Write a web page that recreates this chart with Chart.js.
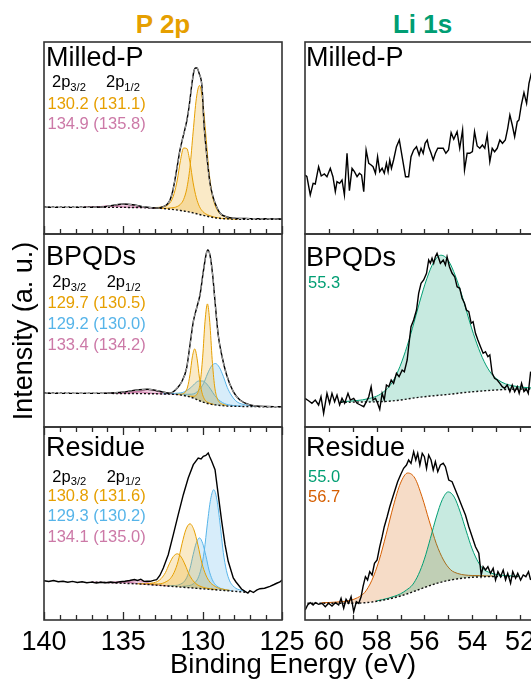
<!DOCTYPE html>
<html><head><meta charset="utf-8">
<script src="https://cdn.jsdelivr.net/npm/chart.js@4.4.1/dist/chart.umd.min.js"></script>
<style>
html,body{margin:0;padding:0;background:#fff;}
body{width:531px;height:681px;overflow:hidden;position:relative;font-family:"Liberation Sans",Arial,sans-serif;}
canvas{position:absolute;}
.t{position:absolute;white-space:nowrap;line-height:1;font-family:"Liberation Sans",Arial,sans-serif;}
.t sub{font-size:0.68em;vertical-align:baseline;position:relative;top:0.3em;}
</style></head><body>
<script>
// ---------- tick values / labels ----------
const P_TICK_VALUES = [125,126,127,128,129,130,131,132,133,134,135,136,137,138,139,140];
const P_TICK_LABELS = [140,135,130,125];
const LI_TICK_VALUES = [52,53,54,55,56,57,58,59,60];
const LI_TICK_LABELS = [60,58,56,54,52];

// ---------- P 2p : Milled-P ----------
const P_MILLED_BE = [140,138,137,136.2,135.6,135.0,134.4,133.8,133.2,132.8,132.5,132.25,132.06,131.9,131.75,131.6,131.43,131.24,130.99,130.86,130.67,130.55,130.45,130.36,130.23,130.04,129.92,129.73,129.54,129.38,129.22,128.91,128.47,128.0,127.0,126.0,125.0];
const P_MILLED_INT = [26.7,26.6,26.7,27.3,28.8,30.0,29.2,27.4,26.3,26.0,27.3,29.5,34,42,54,68,84,97,114,127,151,163,166,166,161,147,111,77,51,39,31,21,17,15.8,15.4,15.2,15.0];
const P_MILLED_BG_BE = [140,137,135,134,133.5,133,132.6,132.2,131.8,131.4,131.0,130.6,130.2,129.8,129.4,129.0,128.6,128.2,127.6,127,125];
const P_MILLED_BG = [26.7,26.7,26.6,26.4,26.3,26.0,25.6,25.0,24.4,23.5,22.5,21.1,19.5,18.0,16.7,15.8,15.3,15.0,14.8,14.7,14.7];
const P_MILLED_FIT_BE = [133.0,132.6,132.2,132.0,131.8,131.6,131.4,131.2,131.0,130.8,130.6,130.4,130.2,130.0,129.8,129.6,129.4,129.2,129.0,128.8,128.6,128.2,127.8];
const P_MILLED_GOLD32 = [26.0,25.6,25.8,26.1,26.5,27.5,29.7,34.6,45.5,66.8,102.1,135.3,148.5,133.7,99.0,62.3,39.7,27.8,22.0,19.0,17.4,15.8,14.8];
const P_MILLED_GOLD12 = [26.5,26.9,28.9,32.5,40.4,54.0,73.5,86.0,85.5,71.8,51.1,36.3,27.3,22.6,20.1,18.6,17.5,16.7,16.1,15.5,15.3,15.0,14.8];
const P_MILLED_PINK_BE = [137.5,137,136.5,136,135.5,135,134.5,134,133.5,133,132.5];
const P_MILLED_PINK32 = [26.7,26.7,26.8,27.2,28.3,29.6,28.8,27.3,26.5,26.0,25.5];
const P_MILLED_PINK12 = [26.8,26.9,27.4,28.1,27.9,27.1,26.65,26.4,26.3,26.0,25.5];

// ---------- P 2p : BPQDs ----------
const P_BPQD_BE = [140,138,136.5,135.5,135,134.5,134,133.5,133,132.5,132.06,131.85,131.6,131.32,131.01,130.8,130.59,130.38,130.17,129.96,129.79,129.68,129.54,129.37,129.22,129.02,128.8,128.49,128.07,127.65,127.02,126,125];
const P_BPQD_INT = [33.7,33.6,33.6,34.2,35,36.2,37.2,37.7,36.8,35,33.7,35.3,39,45.3,59,82,105.3,119,132,155.3,172,177,172,152,125.3,92,72,52,35.3,27,22,20.5,20.3];
const P_BPQD_BG_BE = [140,136,134,133,132.5,132,131.6,131.2,130.8,130.4,130.0,129.6,129.2,128.8,128.4,128.0,127.2,126.4,125];
const P_BPQD_BG = [33.7,33.6,33.4,33.2,33.0,32.8,32.4,31.5,30.0,27.7,25.0,23.2,22.1,21.4,20.9,20.7,20.5,20.3,20.3];
const P_BPQD_GOLD32_BE = [130.9,130.75,130.6,130.45,130.3,130.15,130.0,129.85,129.7,129.55,129.4,129.25,129.1,128.95,128.8,128.65,128.5];
const P_BPQD_GOLD32 = [30.9,30.8,30.7,31.3,34.6,45.0,69.8,105.8,123.1,104.6,67.4,41.1,29.4,24.9,23.1,22.2,21.5];
const P_BPQD_GOLD12_BE = [131.7,131.55,131.4,131.25,131.1,130.95,130.8,130.65,130.5,130.35,130.2,130.05,129.9,129.75,129.6,129.45,129.3];
const P_BPQD_GOLD12 = [32.75,32.8,32.8,33.2,34.9,40.0,52.4,70.1,78.1,68.2,48.8,34.8,28.2,25.4,24.0,23.2,22.55];
const P_BPQD_BLUE32_BE = [131.7,131.45,131.2,130.95,130.7,130.45,130.2,129.95,129.7,129.45,129.2,128.95,128.7,128.45,128.2,127.95,127.7,127.45,127.2,126.95,126.7];
const P_BPQD_BLUE32 = [33.0,32.9,32.7,32.7,32.8,34.0,37.6,43.3,53.0,60.8,63.5,59.7,50.7,39.6,32.0,26.7,23.9,22.65,21.7,21.25,20.9];
const P_BPQD_BLUE12_BE = [132.5,132.25,132.0,131.75,131.5,131.25,131.0,130.75,130.5,130.25,130.0,129.75,129.5,129.25,129.0,128.75,128.5,128.25,128.0,127.75,127.5];
const P_BPQD_BLUE12 = [33.25,33.3,33.4,33.65,33.9,34.6,36.5,39.3,43.3,46.0,46.0,43.1,37.8,31.7,27.4,24.35,22.7,21.9,21.3,21.1,20.85];
const P_BPQD_PINK32_BE = [135.4,135.0,134.6,134.2,133.8,133.4,133.0,132.6,132.2,131.8,131.4];
const P_BPQD_PINK32 = [33.7,33.7,34.0,34.85,36.45,37.3,36.3,34.5,33.4,32.8,32.1];
const P_BPQD_PINK12_BE = [136.2,135.8,135.4,135.0,134.6,134.2,133.8,133.4,133.0,132.6,132.2];
const P_BPQD_PINK12 = [33.65,33.7,33.85,34.2,35.05,35.4,34.9,34.0,33.45,33.15,32.95];

// ---------- P 2p : Residue ----------
const P_RES_BE = [140,139.7,139.4,139.1,138.8,138.5,138.2,137.9,137.6,137.3,137.0,136.7,136.4,136.1,135.8,135.5,135.2,134.9,134.6,134.3,134.1,133.9,133.7,133.5,133.3,133.1,132.9,132.7,132.48,132.17,131.85,131.54,131.22,130.91,130.59,130.28,130.1,129.96,129.8,129.65,129.55,129.43,129.22,129.02,128.8,128.59,128.39,128.07,127.9,127.76,127.55,127.33,127.15,127.02,126.8,126.6,126.39,126.1,125.76,125.5,125.3,125.13,125.0];
const P_RES_INT = [39.3,38.5,39.5,38.2,38.8,37.8,38.6,37.5,38.3,37.2,37.9,37.0,37.8,37.2,38.0,37.4,38.3,38.8,39.5,40.5,39.6,40.8,38.6,38.9,38.7,39.6,40.3,44.5,52,65.3,85.3,105.3,125.3,142,155.3,162,161,163.7,164.5,167,163,158.7,150.3,125.3,98.7,75.3,58.7,42,38,35.3,31,28.7,27,29.3,27.5,29.8,31.3,31.8,33.7,35.5,37,38,40];
const P_RES_BG_BE = [137.0,136.0,135.0,134.0,133.3,132.0,131.0,130.0,129.0,128.0,127.3];
const P_RES_BG = [38.0,37.4,36.7,36.0,35.3,33.7,32.45,31.2,29.95,28.7,27.8];
const P_RES_GOLD32_BE = [133.3,133.05,132.8,132.55,132.3,132.05,131.8,131.55,131.3,131.05,130.8,130.55,130.3,130.05,129.8,129.55,129.3,129.05,128.8,128.55,128.3];
const P_RES_GOLD32 = [35.9,35.9,36.1,36.6,38.3,41.2,47.55,58.7,76.3,90.7,96.2,90.1,75.1,56.9,45.05,38.0,34.5,32.2,31.1,30.3,29.7];
const P_RES_GOLD12_BE = [134.1,133.85,133.6,133.35,133.1,132.85,132.6,132.35,132.1,131.85,131.6,131.35,131.1,130.85,130.6,130.35,130.1,129.85,129.6,129.35,129.1];
const P_RES_GOLD12 = [36.2,36.25,36.25,36.55,37.2,38.5,41.7,47.3,56.2,63.5,66.2,62.9,55.0,45.5,39.2,35.4,33.4,32.2,31.4,30.9,30.4];
const P_RES_BLUE32_BE = [131.3,131.1,130.9,130.7,130.5,130.3,130.1,129.9,129.7,129.5,129.3,129.1,128.9,128.7,128.5,128.3,128.1,127.9,127.7,127.5,127.3];
const P_RES_BLUE32 = [33.6,33.8,34.3,35.1,37.3,41.6,51.3,69.1,96.8,120.6,130.3,120.1,95.8,67.6,49.3,39.1,34.3,31.6,30.3,29.3,28.6];
const P_RES_BLUE12_BE = [132.2,132.0,131.8,131.6,131.4,131.2,131.0,130.8,130.6,130.4,130.2,130.0,129.8,129.6,129.4,129.2,129.0,128.8,128.6,128.4,128.2];
const P_RES_BLUE12 = [34.4,34.3,34.45,34.7,35.8,37.8,42.55,51.4,65.35,77.2,82.05,76.7,64.35,49.9,40.55,35.3,32.75,31.2,30.45,29.8,29.35];
const P_RES_PINK32_BE = [136.1,135.7,135.3,134.9,134.5,134.1,133.7,133.3,132.9,132.5,132.1];
const P_RES_PINK32 = [37.37,37.18,37.16,37.66,38.9,39.4,38.4,36.56,35.26,34.48,33.87];
const P_RES_PINK12_BE = [137.0,136.6,136.2,135.8,135.4,135.0,134.6,134.2,133.8,133.4,133.0];
const P_RES_PINK12 = [38.03,37.74,37.57,37.71,38.18,38.4,37.73,36.71,36.02,35.49,34.98];

// ---------- Li 1s : Milled-P ----------
const LI_MILLED_BE = [60.99,60.92,60.78,60.66,60.57,60.43,60.32,60.19,60.08,59.94,59.83,59.73,59.66,59.55,59.45,59.35,59.24,59.14,59.03,58.93,58.82,58.72,58.63,58.54,58.44,58.33,58.23,58.15,58.05,57.96,57.87,57.77,57.68,57.59,57.52,57.45,57.38,57.29,57.17,57.05,56.92,56.79,56.66,56.56,56.45,56.33,56.22,56.14,56.05,55.97,55.88,55.82,55.72,55.63,55.54,55.44,55.33,55.21,55.10,54.99,54.88,54.77,54.63,54.52,54.40,54.32,54.21,54.10,53.99,53.90,53.79,53.68,53.57,53.47,53.37,53.26,53.16,53.06,52.95,52.84,52.73,52.61,52.51,52.42,52.32,52.22,52.11,52.04,51.94,51.83,51.72,51.62,51.52,51.4,51.25];
const LI_MILLED_INT = [59,57.3,39,50.7,50,67.3,58,60,57.3,65.7,57.3,42.3,52.3,50.7,54,39,80.7,43.3,65.7,62.3,57.3,60.7,59,42.3,84,70.7,69,67.3,60.7,77.3,62.3,65.7,60.7,70.7,62.3,74,65.7,74,87.3,94,75.7,57.3,57.3,77.3,84,87.3,79,85.7,80.7,90.7,94,87.3,80.7,74,80.7,85.7,85.7,85.7,80.7,84,101.3,94.7,102.3,85.7,104,64,80.7,80.7,82.3,102.3,88,85.7,89,85.7,99,72.3,85.7,82.3,85.7,94,90.7,94,105.7,119,109,97.3,112.3,114,129,141.3,130.7,150.7,160.7,166,172];

// ---------- Li 1s : BPQDs ----------
const LI_BPQD_BE = [61.0,60.85,60.71,60.57,60.43,60.33,60.22,60.08,59.97,59.87,59.76,59.66,59.55,59.45,59.34,59.20,59.10,58.96,58.82,58.68,58.54,58.43,58.33,58.23,58.15,58.05,57.96,57.87,57.77,57.68,57.59,57.49,57.39,57.29,57.17,57.06,56.93,56.84,56.72,56.66,56.56,56.45,56.33,56.24,56.14,56.03,55.91,55.82,55.75,55.68,55.61,55.54,55.47,55.40,55.33,55.21,55.12,55.05,54.95,54.84,54.73,54.63,54.52,54.42,54.32,54.24,54.14,54.04,53.96,53.86,53.76,53.65,53.54,53.44,53.34,53.26,53.16,53.06,52.95,52.84,52.74,52.64,52.53,52.42,52.32,52.22,52.11,52.03,51.93,51.83,51.73,51.65,51.55];
const LI_BPQD_INT = [28.7,26.3,23.7,27,22,30.3,13.7,33.7,23.7,33.7,25.3,32,22,28.7,23.7,33.7,27,28.7,23.7,22,20.3,25.3,30.3,40.3,27,28.7,23.7,17.7,33.7,27,42,40.3,47,43.7,53.7,50.3,57,55.3,67,80.3,100.3,107,117,133.7,143.7,147,153.7,167,163.7,168.7,163.7,170.3,173.7,168.7,163.7,167,162,170.3,160.3,153.7,150.3,140.3,138.7,128.7,123.7,117,115.3,103.7,105.3,93.7,87,80.3,73.7,75.3,70.3,72,53.7,48.7,47,43.7,40.3,38.7,42,35.3,42,35.3,40.3,33.7,43.7,35.3,38,33.7,55.3];
const LI_BPQD_BG_BE = [59.5,59.2,58.6,58.0,57.5,57.0,56.5,56.0,55.5,55.0,54.5,54.0,53.5,53.0,52.5,52.0,51.5,51.1];
const LI_BPQD_BG = [24.7,24.8,25.0,25.2,25.8,27.0,28.8,30.3,31.5,32.6,34.0,35.2,36.2,37.0,37.6,37.9,38.0,38.0];
const LI_BPQD_FIT_BE = [59.5,59.2,58.9,58.6,58.3,58.0,57.7,57.4,57.1,56.8,56.5,56.2,55.9,55.6,55.3,55.0,54.7,54.4,54.1,53.8,53.5,53.2,52.9,52.6,52.3,52.0,51.7,51.4,51.1];
const LI_BPQD_GREEN = [25.4,25.7,26.3,27.1,28.6,30.8,35.3,42.8,56.1,75.3,98.8,124.9,148.2,165.3,171.8,166.6,151.0,129.5,104.9,83.1,65.6,53.5,46.9,43.1,41.25,40.0,39.4,38.9,38.7];

// ---------- Li 1s : Residue ----------
const LI_RES_BE = [60.99,60.89,60.78,60.66,60.57,60.43,60.29,60.15,60.01,59.87,59.73,59.59,59.49,59.38,59.28,59.17,59.07,58.96,58.85,58.75,58.65,58.57,58.47,58.38,58.29,58.19,58.09,57.98,57.87,57.77,57.68,57.56,57.45,57.34,57.23,57.12,57.00,56.87,56.75,56.66,56.56,56.45,56.36,56.28,56.19,56.09,56.00,55.91,55.82,55.72,55.63,55.54,55.44,55.33,55.21,55.12,54.98,54.84,54.70,54.56,54.42,54.28,54.14,54.00,53.86,53.72,53.62,53.54,53.44,53.34,53.23,53.12,53.02,52.92,52.81,52.70,52.60,52.51,52.39,52.30,52.18,52.09,51.97,51.86,51.75,51.64,51.55];
const LI_RES_INT = [10,15,17.3,15,17.3,15.7,16.7,13.3,16.7,14,17.3,15,21.7,11.7,20.7,16.7,23.3,8.3,18.3,16.7,23.3,33.3,43.3,40,48.3,45,56.7,60,73.3,83.3,93.3,103.3,113.3,121.7,130,138.3,145,151.7,155,160,156.7,168.3,160,166.7,155,166.7,163.3,151.7,165,160,150,158.3,148.3,155,156.7,153.3,140,138.3,130,121.7,113.3,105,93.3,83.3,73.3,66.7,45,53.3,50,53.3,46.7,51.7,40,48.3,43.3,50,40,46.7,36.7,48.3,41.7,46.7,40,45,43.3,48.3,40];
const LI_RES_BG_BE = [60.9,59.5,59.0,58.5,58.0,57.5,57.0,56.5,56.0,55.5,55.0,54.5,54.0,53.5,53.0,52.0];
const LI_RES_BG = [16.7,16.7,16.7,17.2,18.7,21.0,24.0,28.0,32.5,36.5,39.5,41.5,42.7,43.3,43.4,43.4];
const LI_RES_ORANGE_BE = [60.3,60.0,59.7,59.4,59.1,58.8,58.5,58.2,57.9,57.6,57.3,57.0,56.7,56.4,56.1,55.8,55.5,55.2,54.9,54.6,54.3,54.0,53.7,53.4,53.1];
const LI_RES_ORANGE = [17.3,17.5,17.9,18.5,19.7,22.3,27.5,39.7,59.4,85.7,113.9,136.9,147.0,141.9,123.3,99.3,76.3,60.0,50.2,46.5,45.0,44.5,44.4,44.15,44.0];
const LI_RES_GREEN_BE = [58.0,57.75,57.5,57.25,57.0,56.75,56.5,56.25,56.0,55.75,55.5,55.25,55.0,54.75,54.5,54.25,54.0,53.75,53.5,53.25,53.0,52.75,52.5,52.25,52.0];
const LI_RES_GREEN = [19.1,20.4,21.9,23.8,26.2,30.0,35.1,45.4,60.9,81.5,103.0,120.4,128.1,122.9,108.0,89.1,71.1,58.1,50.4,47.35,45.6,44.7,44.3,44.0,43.8];

// ---------- styles ----------
const C = {gold:'#E69F00', blue:'#56B4E9', pink:'#CC79A7', green:'#009E73', orange:'#D55E00'};
const FILL = {gold:'rgba(230,159,0,0.22)', blue:'rgba(86,180,233,0.24)', pink:'rgba(204,121,167,0.35)', green:'rgba(0,158,115,0.22)', orange:'rgba(213,94,0,0.22)'};
const FONT = '"Liberation Sans", Arial, sans-serif';

function pts(xs, ys){ return xs.map((x,i)=>({x:x, y:ys[i]})); }
function dataLine(xs, ys, smooth){ return {data:pts(xs,ys), borderColor:'#000', borderWidth:1.4, pointRadius:0, fill:false, tension:0, cubicInterpolationMode: smooth?'monotone':'default'}; }
function envLine(xs, ys){ return {data:pts(xs,ys), borderColor:'#a0a0a0', borderWidth:1.1, borderDash:[4,3], pointRadius:0, fill:false, cubicInterpolationMode:'monotone'}; }
function bgLine(xs, ys){ return {data:pts(xs,ys), borderColor:'#111', borderWidth:1.4, borderDash:[2,2], pointRadius:0, fill:false, cubicInterpolationMode:'monotone'}; }
function comp(xs, ys, col, target){ return {data:pts(xs,ys), borderColor:C[col], backgroundColor:FILL[col], borderWidth:1, pointRadius:0, fill:target, cubicInterpolationMode:'monotone'}; }

const framePlugin = {
  id:'frame',
  afterDatasetsDraw(chart, args, o){
    const ctx = chart.ctx, a = chart.chartArea, x = chart.scales.x;
    ctx.save();
    ctx.strokeStyle = '#2a2a2a'; ctx.lineWidth = 1.3;
    (o.ticks||[]).forEach(v=>{
      const px = Math.round(x.getPixelForValue(v)) + 0.5;
      const len = (o.major||[]).indexOf(v) >= 0 ? 8 : 5;
      ctx.beginPath();
      if (o.tickBottom){ ctx.moveTo(px, a.bottom); ctx.lineTo(px, a.bottom - len); }
      if (o.tickTop){ ctx.moveTo(px, a.top); ctx.lineTo(px, a.top + len); }
      ctx.stroke();
    });
    ctx.lineWidth = 1.6; ctx.strokeStyle = '#333';
    ctx.strokeRect(a.left, a.top, a.right - a.left, a.bottom - a.top);
    if (o.labels){
      ctx.fillStyle = '#000'; ctx.font = '27px ' + FONT; ctx.textAlign = 'center'; ctx.textBaseline = 'alphabetic';
      o.labels.forEach(v=> ctx.fillText(String(v), x.getPixelForValue(v), a.bottom + 30));
    }
    ctx.restore();
  }
};

function panel(rect, pad, xr, yMax, datasets, frame){
  const c = document.createElement('canvas');
  const w = rect[2]-rect[0]+pad[0]+pad[1], h = rect[3]-rect[1]+pad[2]+pad[3];
  c.width = w; c.height = h;
  c.style.left = (rect[0]-pad[0])+'px'; c.style.top = (rect[1]-pad[2])+'px';
  c.style.width = w+'px'; c.style.height = h+'px';
  document.body.appendChild(c);
  new Chart(c, {
    type:'line',
    data:{datasets:datasets},
    options:{
      responsive:false, animation:false, devicePixelRatio:1,
      layout:{padding:{left:pad[0], right:pad[1], top:pad[2], bottom:pad[3]}},
      scales:{
        x:{type:'linear', reverse:true, min:xr[0], max:xr[1], display:false},
        y:{type:'linear', min:0, max:yMax, display:false}
      },
      plugins:{legend:{display:false}, tooltip:{enabled:false}, frame:frame},
      elements:{point:{radius:0}}
    },
    plugins:[framePlugin]
  });
}

const PX = [125,140], LX = [51.2,61];
const P_MAJOR = [125,130,135,140], LI_MAJOR = [52,54,56,58,60];

// left column: P 2p
panel([44,42,282,234],[2,2,2,2],PX,192,[
  envLine(P_MILLED_BE,P_MILLED_INT),
  dataLine(P_MILLED_BE,P_MILLED_INT,true),
  bgLine(P_MILLED_BG_BE,P_MILLED_BG),
  comp(P_MILLED_FIT_BE,P_MILLED_GOLD32,'gold',2),
  comp(P_MILLED_FIT_BE,P_MILLED_GOLD12,'gold',2),
  comp(P_MILLED_PINK_BE,P_MILLED_PINK32,'pink',2),
  comp(P_MILLED_PINK_BE,P_MILLED_PINK12,'pink',2)
],{ticks:P_TICK_VALUES, major:P_MAJOR, tickBottom:true});

panel([44,234,282,427],[2,2,2,2],PX,193,[
  envLine(P_BPQD_BE,P_BPQD_INT),
  dataLine(P_BPQD_BE,P_BPQD_INT,true),
  bgLine(P_BPQD_BG_BE,P_BPQD_BG),
  comp(P_BPQD_GOLD32_BE,P_BPQD_GOLD32,'gold',2),
  comp(P_BPQD_GOLD12_BE,P_BPQD_GOLD12,'gold',2),
  comp(P_BPQD_BLUE32_BE,P_BPQD_BLUE32,'blue',2),
  comp(P_BPQD_BLUE12_BE,P_BPQD_BLUE12,'blue',2),
  comp(P_BPQD_PINK32_BE,P_BPQD_PINK32,'pink',2),
  comp(P_BPQD_PINK12_BE,P_BPQD_PINK12,'pink',2)
],{});

panel([44,427,282,620],[25,25,2,40],PX,193,[
  dataLine(P_RES_BE,P_RES_INT,false),
  bgLine(P_RES_BG_BE,P_RES_BG),
  comp(P_RES_GOLD32_BE,P_RES_GOLD32,'gold',1),
  comp(P_RES_GOLD12_BE,P_RES_GOLD12,'gold',1),
  comp(P_RES_BLUE32_BE,P_RES_BLUE32,'blue',1),
  comp(P_RES_BLUE12_BE,P_RES_BLUE12,'blue',1),
  comp(P_RES_PINK32_BE,P_RES_PINK32,'pink',1),
  comp(P_RES_PINK12_BE,P_RES_PINK12,'pink',1)
],{ticks:P_TICK_VALUES, major:P_MAJOR, tickBottom:true, tickTop:true, labels:P_TICK_LABELS});

// right column: Li 1s
panel([305,42,539,234],[2,2,2,2],LX,192,[
  dataLine(LI_MILLED_BE,LI_MILLED_INT,false)
],{ticks:LI_TICK_VALUES, major:[], tickBottom:true});

panel([305,234,539,427],[2,2,2,2],LX,193,[
  dataLine(LI_BPQD_BE,LI_BPQD_INT,false),
  bgLine(LI_BPQD_BG_BE,LI_BPQD_BG),
  comp(LI_BPQD_FIT_BE,LI_BPQD_GREEN,'green',1)
],{});

panel([305,427,539,620],[2,2,2,40],LX,193,[
  dataLine(LI_RES_BE,LI_RES_INT,false),
  bgLine(LI_RES_BG_BE,LI_RES_BG),
  comp(LI_RES_GREEN_BE,LI_RES_GREEN,'green',1),
  comp(LI_RES_ORANGE_BE,LI_RES_ORANGE,'orange',1)
],{ticks:LI_TICK_VALUES, major:[], tickBottom:true, tickTop:true, labels:LI_TICK_LABELS});

// ---------- text ----------
function addText(html, x, base, size, color, weight, align){
  const d = document.createElement('div'); d.className = 't';
  d.innerHTML = html;
  d.style.fontSize = size+'px'; d.style.color = color; d.style.fontWeight = weight||'normal';
  d.style.left = x+'px'; d.style.top = (base - 0.8465*size)+'px';
  if (align === 'center') d.style.transform = 'translateX(-50%)';
  document.body.appendChild(d);
}
addText('P 2p', 163, 33, 26, '#E69F00', 'bold', 'center');
addText('Li 1s', 422.5, 33, 26, '#009E73', 'bold', 'center');

addText('Milled-P', 46, 66.5, 27, '#000');
addText('BPQDs', 46, 266, 27, '#000');
addText('Residue', 46, 456.5, 27, '#000');
addText('Milled-P', 306, 66.5, 27, '#000');
addText('BPQDs', 306, 266.5, 27, '#000');
addText('Residue', 306, 456.5, 27, '#000');

const S = 16.5;
addText('2p<sub>3/2</sub>', 52, 87.3, S, '#000');
addText('2p<sub>1/2</sub>', 106, 87.3, S, '#000');
addText('130.2 (131.1)', 47.5, 109.3, S, C.gold);
addText('134.9 (135.8)', 47.5, 129.3, S, C.pink);

addText('2p<sub>3/2</sub>', 52.3, 287.3, S, '#000');
addText('2p<sub>1/2</sub>', 106.7, 287.3, S, '#000');
addText('129.7 (130.5)', 47.5, 308.3, S, C.gold);
addText('129.2 (130.0)', 47.5, 329, S, C.blue);
addText('133.4 (134.2)', 47.5, 349.5, S, C.pink);

addText('2p<sub>3/2</sub>', 52.3, 481.7, S, '#000');
addText('2p<sub>1/2</sub>', 106.7, 481.7, S, '#000');
addText('130.8 (131.6)', 47.5, 501, S, C.gold);
addText('129.3 (130.2)', 47.5, 521, S, C.blue);
addText('134.1 (135.0)', 47.5, 541.5, S, C.pink);

addText('55.3', 308, 288.3, S, C.green);
addText('55.0', 308, 481.7, S, C.green);
addText('56.7', 308, 501.7, S, C.orange);

addText('Binding Energy (eV)', 293, 673, 27.5, '#000', 'normal', 'center');

const yl = document.createElement('div'); yl.className = 't';
yl.textContent = 'Intensity (a. u.)';
yl.style.fontSize = '27px'; yl.style.color = '#000';
yl.style.left = '23px'; yl.style.top = '331px';
yl.style.transform = 'translate(-50%,-50%) rotate(-90deg)';
document.body.appendChild(yl);
</script>
</body></html>
